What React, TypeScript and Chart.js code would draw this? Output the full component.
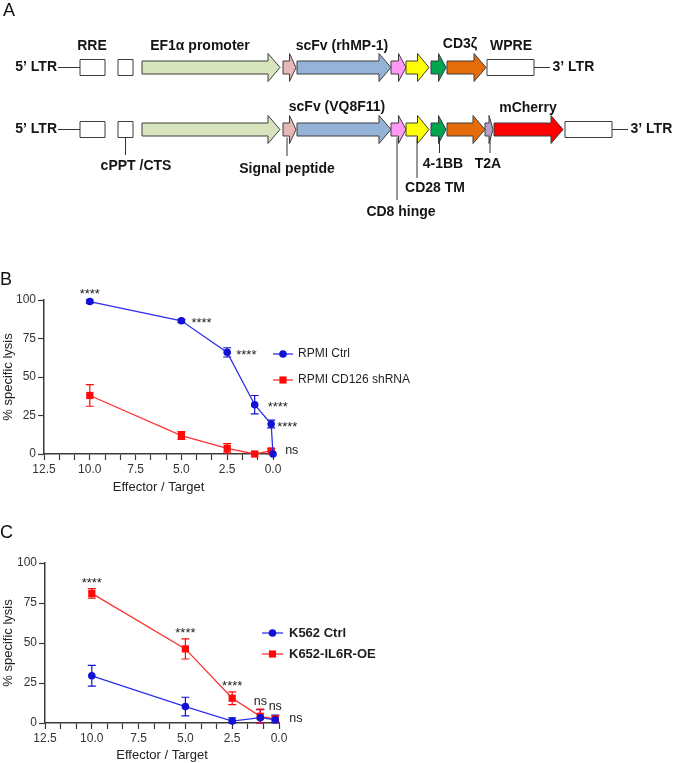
import React, { useEffect, useRef } from 'react';
import { Chart, registerables } from 'chart.js';

Chart.register(...registerables);

const FONT = '"Liberation Sans", Arial, Helvetica, sans-serif';
Chart.defaults.font.family = FONT;

// ---------------- Panel A : vector maps ----------------
const ltr5Label = '5’ LTR';
const ltr3Label = '3’ LTR';
const row1Names = ['RRE', 'cPPT/CTS', 'EF1α promoter', 'Signal peptide', 'scFv', 'CD8 hinge', 'CD28 TM', '4-1BB', 'CD3ζ', 'WPRE'];
const row1Start = [80, 118, 142, 283, 297, 391, 406, 431, 447, 487];
const row1End = [105, 133, 280, 296, 391, 406, 429, 446, 486, 534];
const row2Names = ['RRE', 'cPPT/CTS', 'EF1α promoter', 'Signal peptide', 'scFv', 'CD8 hinge', 'CD28 TM', '4-1BB', 'CD3ζ', 'T2A', 'mCherry', 'WPRE'];
const row2Start = [80, 118, 142, 283, 297, 391, 406, 431, 447, 485, 494, 565];
const row2End = [105, 133, 280, 296, 391, 406, 429, 446, 485, 493, 563, 612];
const rowCenter = [67.5, 129.5];

// labels written above the maps: text, x centre, y centre
const topLabelText = ['RRE', 'EF1α promoter', 'scFv (rhMP-1)', 'CD3ζ', 'WPRE', 'scFv (VQ8F11)', 'mCherry'];
const topLabelX = [92, 200, 342, 460, 511, 337, 528];
const topLabelY = [46, 46, 46, 44, 46, 107, 108];

// call-outs below the second map: text, line x, line end y, text x, text y
const calloutText = ['cPPT /CTS', 'Signal peptide', 'CD8 hinge', 'CD28 TM', '4-1BB', 'T2A'];
const calloutLineX = [125.5, 287, 397, 417, 439.5, 490];
const calloutLineEnd = [155, 156, 200, 178, 153, 153];
const calloutTextX = [136, 287, 401, 435, 443, 488];
const calloutTextY = [166, 169, 212, 188, 164, 164];

const featureStyle: Record<string, { kind: 'box' | 'arrow'; fill: string }> = {
  'RRE': { kind: 'box', fill: '#ffffff' },
  'cPPT/CTS': { kind: 'box', fill: '#ffffff' },
  'EF1α promoter': { kind: 'arrow', fill: '#d7e4bd' },
  'Signal peptide': { kind: 'arrow', fill: '#e6b9b8' },
  'scFv': { kind: 'arrow', fill: '#95b3d7' },
  'CD8 hinge': { kind: 'arrow', fill: '#ff99f5' },
  'CD28 TM': { kind: 'arrow', fill: '#ffff00' },
  '4-1BB': { kind: 'arrow', fill: '#00a550' },
  'CD3ζ': { kind: 'arrow', fill: '#e46c0a' },
  'T2A': { kind: 'arrow', fill: '#b3a2c7' },
  'mCherry': { kind: 'arrow', fill: '#ff0000' },
  'WPRE': { kind: 'box', fill: '#ffffff' },
};

function diagramConfig(): any {
  const rows = [
    { names: row1Names, start: row1Start, end: row1End },
    { names: row2Names, start: row2Start, end: row2End },
  ];
  const plugin = {
    id: 'vectorMap',
    afterDraw(chart: any) {
      const ctx = chart.ctx as CanvasRenderingContext2D;
      const X = (v: number) => chart.scales.x.getPixelForValue(v);
      const Y = (v: number) => chart.scales.y.getPixelForValue(v);
      ctx.save();
      ctx.fillStyle = '#111';
      ctx.font = `18px ${FONT}`;
      ctx.textAlign = 'left';
      ctx.textBaseline = 'alphabetic';
      ctx.fillText('A', X(3), Y(16));

      const textCol = '#151515';
      const bold = `bold 14px ${FONT}`;
      rows.forEach((row, r) => {
        const yc = Y(rowCenter[r]);
        const first = row.start[0];
        const last = row.end[row.end.length - 1];
        ctx.strokeStyle = '#333';
        ctx.lineWidth = 1;
        ctx.beginPath();
        ctx.moveTo(X(58), yc);
        ctx.lineTo(X(first), yc);
        ctx.moveTo(X(last), yc);
        ctx.lineTo(X(last + 16), yc);
        ctx.stroke();
        ctx.fillStyle = textCol;
        ctx.font = bold;
        ctx.textBaseline = 'middle';
        ctx.textAlign = 'right';
        ctx.fillText(ltr5Label, X(57), yc);
        ctx.textAlign = 'left';
        ctx.fillText(ltr3Label, X(last + 18.5), yc);

        row.names.forEach((name, i) => {
          const st = featureStyle[name];
          const x0 = X(row.start[i]);
          const x1 = X(row.end[i]);
          ctx.fillStyle = st.fill;
          ctx.strokeStyle = '#3c3c3c';
          ctx.lineWidth = 1;
          ctx.beginPath();
          if (st.kind === 'box') {
            ctx.rect(x0, yc - 8, x1 - x0, 16);
          } else {
            const bh = 6.5;
            const hh = 14;
            const hl = Math.min(12, (x1 - x0) * 0.5);
            ctx.moveTo(x0, yc - bh);
            ctx.lineTo(x1 - hl, yc - bh);
            ctx.lineTo(x1 - hl, yc - hh);
            ctx.lineTo(x1, yc);
            ctx.lineTo(x1 - hl, yc + hh);
            ctx.lineTo(x1 - hl, yc + bh);
            ctx.lineTo(x0, yc + bh);
            ctx.closePath();
          }
          ctx.fill();
          ctx.stroke();
        });
      });

      ctx.fillStyle = textCol;
      ctx.font = bold;
      ctx.textAlign = 'center';
      ctx.textBaseline = 'middle';
      topLabelText.forEach((t, i) => ctx.fillText(t, X(topLabelX[i]), Y(topLabelY[i])));

      ctx.strokeStyle = '#333';
      ctx.lineWidth = 1;
      calloutText.forEach((t, i) => {
        ctx.beginPath();
        ctx.moveTo(X(calloutLineX[i]), Y(rowCenter[1] + 8));
        ctx.lineTo(X(calloutLineX[i]), Y(calloutLineEnd[i]));
        ctx.stroke();
        ctx.fillText(t, X(calloutTextX[i]), Y(calloutTextY[i]));
      });
      ctx.restore();
    },
  };
  return {
    type: 'scatter',
    data: { datasets: [] },
    options: {
      responsive: false,
      animation: false,
      events: [],
      layout: { padding: 0 },
      plugins: { legend: { display: false }, tooltip: { enabled: false } },
      scales: {
        x: { type: 'linear', display: false, min: 0, max: 673 },
        y: { type: 'linear', display: false, min: 0, max: 230, reverse: true },
      },
    },
    plugins: [plugin],
  };
}

// ---------------- Panels B & C : cytotoxicity ----------------
const xMajorTicks = [0, 2.5, 5, 7.5, 10, 12.5];
const xTickLabels = ['0.0', '2.5', '5.0', '7.5', '10.0', '12.5'];
const yTicks = [0, 25, 50, 75, 100];
const yTickLabels = ['0', '25', '50', '75', '100'];

// Panel B
const rpmiCtrlEt = [10, 5, 2.5, 1, 0.1, 0];
const rpmiCtrlLysis = [99, 86.5, 66, 32, 19.5, 0];
const rpmiCtrlSem = [1, 1, 3, 6, 2.5, 0];
const rpmiShEt = [10, 5, 2.5, 1, 0.1];
const rpmiShLysis = [38, 12, 3.7, 0, 2];
const rpmiShSem = [7, 2.5, 3, 1, 1.5];

// Panel C
const k562Et = [10, 5, 2.5, 1, 0.2];
const k562CtrlLysis = [29.5, 10.3, 1.2, 3.3, 2];
const k562CtrlSem = [6.5, 5.8, 2, 5, 3];
const k652OeLysis = [81, 46.3, 15.5, 4.2, 2.5];
const k652OeSem = [3, 6.3, 4, 4.5, 2];

const BLUE = '#1212d4';
const BLUE_LINE = '#2f2fe8';
const RED = '#ff0a0a';
const RED_LINE = '#ff3030';

type Series = { label: string; x: number[]; y: number[]; err: number[]; color: string; line: string; marker: 'circle' | 'rect' };
type Ann = { text: string; s: number; i: number; pos: 'above' | 'right' | 'group'; dx?: number };
type Panel = {
  letter: string; letterY: number; canvasTop: number; height: number; areaTop: number;
  axisLeft: number; axisRight: number; xAxisH: number;
  series: Series[]; anns: Ann[];
  legendX: number; legendLen: number; legendTextX: number; legendYs: number[]; legendFont: string;
};

const panelB: Panel = {
  letter: 'B', letterY: 285, canvasTop: 258, height: 237, areaTop: 300,
  axisLeft: 44, axisRight: 273, xAxisH: 41,
  series: [
    { label: 'RPMI Ctrl', x: rpmiCtrlEt, y: rpmiCtrlLysis, err: rpmiCtrlSem, color: BLUE, line: BLUE_LINE, marker: 'circle' },
    { label: 'RPMI CD126 shRNA', x: rpmiShEt, y: rpmiShLysis, err: rpmiShSem, color: RED, line: RED_LINE, marker: 'rect' },
  ],
  anns: [
    { text: '****', s: 0, i: 0, pos: 'above' },
    { text: '****', s: 0, i: 1, pos: 'right', dx: 10 },
    { text: '****', s: 0, i: 2, pos: 'right', dx: 9 },
    { text: '****', s: 0, i: 3, pos: 'right', dx: 13 },
    { text: '****', s: 0, i: 4, pos: 'right', dx: 6 },
    { text: 'ns', s: 1, i: 4, pos: 'right', dx: 14 },
  ],
  legendX: 273, legendLen: 20, legendTextX: 298, legendYs: [354, 380], legendFont: `12px ${FONT}`,
};

const panelC: Panel = {
  letter: 'C', letterY: 538, canvasTop: 518, height: 245, areaTop: 563,
  axisLeft: 45, axisRight: 279, xAxisH: 40,
  series: [
    { label: 'K562 Ctrl', x: k562Et, y: k562CtrlLysis, err: k562CtrlSem, color: BLUE, line: BLUE_LINE, marker: 'circle' },
    { label: 'K652-IL6R-OE', x: k562Et, y: k652OeLysis, err: k652OeSem, color: RED, line: RED_LINE, marker: 'rect' },
  ],
  anns: [
    { text: '****', s: 1, i: 0, pos: 'group' },
    { text: '****', s: 1, i: 1, pos: 'group' },
    { text: '****', s: 1, i: 2, pos: 'group' },
    { text: 'ns', s: 1, i: 3, pos: 'group' },
    { text: 'ns', s: 1, i: 4, pos: 'group' },
    { text: 'ns', s: 1, i: 4, pos: 'right', dx: 14 },
  ],
  legendX: 262, legendLen: 21, legendTextX: 289, legendYs: [633, 654], legendFont: `bold 13px ${FONT}`,
};

function drawMarker(ctx: CanvasRenderingContext2D, kind: string, x: number, y: number, color: string) {
  ctx.fillStyle = color;
  ctx.beginPath();
  if (kind === 'rect') ctx.rect(x - 3.6, y - 3.6, 7.2, 7.2);
  else ctx.arc(x, y, 3.8, 0, Math.PI * 2);
  ctx.fill();
}

function lysisConfig(p: Panel): any {
  const off = p.canvasTop;
  const errPlugin = {
    id: 'errBars',
    beforeDatasetsDraw(chart: any) {
      const ctx = chart.ctx as CanvasRenderingContext2D;
      const xs = chart.scales.x;
      const ys = chart.scales.y;
      ctx.save();
      p.series.forEach((s) => {
        ctx.strokeStyle = s.color;
        ctx.lineWidth = 1.2;
        s.x.forEach((xv, i) => {
          const e = s.err[i];
          if (!e) return;
          const px = xs.getPixelForValue(xv);
          const yt = ys.getPixelForValue(s.y[i] + e);
          const yb = ys.getPixelForValue(Math.max(0, s.y[i] - e));
          ctx.beginPath();
          ctx.moveTo(px, yt); ctx.lineTo(px, yb);
          ctx.moveTo(px - 4, yt); ctx.lineTo(px + 4, yt);
          ctx.moveTo(px - 4, yb); ctx.lineTo(px + 4, yb);
          ctx.stroke();
        });
      });
      ctx.restore();
    },
  };
  const overlayPlugin = {
    id: 'overlay',
    afterDraw(chart: any) {
      const ctx = chart.ctx as CanvasRenderingContext2D;
      const xs = chart.scales.x;
      const ys = chart.scales.y;
      ctx.save();
      // panel letter
      ctx.fillStyle = '#111';
      ctx.font = `18px ${FONT}`;
      ctx.textAlign = 'left';
      ctx.textBaseline = 'alphabetic';
      ctx.fillText(p.letter, 0, p.letterY - off);

      // annotations
      ctx.fillStyle = '#222';
      p.anns.forEach((a) => {
        const s = p.series[a.s];
        const px = xs.getPixelForValue(s.x[a.i]);
        let vy: number;
        let tx = px;
        ctx.textAlign = 'center';
        if (a.pos === 'above') {
          vy = ys.getPixelForValue(s.y[a.i] + s.err[a.i]) - 8.5;
        } else if (a.pos === 'group') {
          const tops = p.series.map((ss) => ys.getPixelForValue(ss.y[a.i] + ss.err[a.i]));
          vy = Math.min(...tops) - 8;
        } else {
          vy = ys.getPixelForValue(s.y[a.i]);
          tx = px + (a.dx || 9);
          ctx.textAlign = 'left';
        }
        const star = a.text.startsWith('*');
        ctx.font = star ? `13px ${FONT}` : `12.5px ${FONT}`;
        ctx.textBaseline = 'middle';
        ctx.fillText(a.text, tx, vy + (star ? 3 : 0));
      });

      // legend
      p.series.forEach((s, k) => {
        const y = p.legendYs[k] - off;
        ctx.strokeStyle = s.line;
        ctx.lineWidth = 1.3;
        ctx.beginPath();
        ctx.moveTo(p.legendX, y);
        ctx.lineTo(p.legendX + p.legendLen, y);
        ctx.stroke();
        drawMarker(ctx, s.marker, p.legendX + p.legendLen / 2, y, s.color);
        ctx.fillStyle = '#1e1e1e';
        ctx.font = p.legendFont;
        ctx.textAlign = 'left';
        ctx.textBaseline = 'middle';
        ctx.fillText(s.label, p.legendTextX, y);
      });
      ctx.restore();
    },
  };

  const tickFont = { family: FONT, size: 12 };
  const titleFont = { family: FONT, size: 13 };
  const axisCol = '#3a3a3a';
  const near = (a: number, b: number) => Math.abs(a - b) < 1e-6;

  return {
    type: 'line',
    data: {
      datasets: p.series.map((s) => ({
        label: s.label,
        data: s.x.map((xv, i) => ({ x: xv, y: s.y[i] })),
        borderColor: s.line,
        backgroundColor: s.color,
        pointBackgroundColor: s.color,
        pointBorderColor: s.color,
        pointBorderWidth: 0,
        pointStyle: s.marker,
        pointRadius: s.marker === 'rect' ? 5.1 : 3.8,
        borderWidth: 1.3,
        tension: 0,
        clip: false,
      })),
    },
    options: {
      responsive: false,
      animation: false,
      events: [],
      layout: { padding: { top: p.areaTop - off, right: 673 - p.axisRight, left: 0, bottom: 0 } },
      plugins: { legend: { display: false }, tooltip: { enabled: false } },
      scales: {
        x: {
          type: 'linear',
          reverse: true,
          min: 0,
          max: 12.5,
          afterFit: (sc: any) => { sc.height = p.xAxisH; },
          afterBuildTicks: (sc: any) => {
            const t: { value: number }[] = [];
            for (let m = 0; m < xMajorTicks.length; m++) {
              t.push({ value: xMajorTicks[m] });
              if (m < xMajorTicks.length - 1) {
                const step = (xMajorTicks[m + 1] - xMajorTicks[m]) / 3;
                t.push({ value: xMajorTicks[m] + step }, { value: xMajorTicks[m] + 2 * step });
              }
            }
            sc.ticks = t;
          },
          ticks: {
            autoSkip: false,
            maxRotation: 0,
            padding: 2,
            color: '#333',
            font: tickFont,
            callback: (v: number) => {
              const idx = xMajorTicks.findIndex((m) => near(m, v));
              return idx >= 0 ? xTickLabels[idx] : '';
            },
          },
          grid: { drawOnChartArea: false, drawTicks: true, tickLength: 6, tickColor: axisCol, tickWidth: 1.2 },
          border: { color: axisCol, width: 1.5 },
          title: { display: true, text: 'Effector / Target', color: '#222', font: titleFont, padding: 0 },
        },
        y: {
          type: 'linear',
          min: 0,
          max: 100,
          afterFit: (sc: any) => { sc.width = p.axisLeft; },
          afterBuildTicks: (sc: any) => { sc.ticks = yTicks.map((v) => ({ value: v })); },
          ticks: {
            padding: 2,
            color: '#333',
            font: tickFont,
            callback: (v: number) => {
              const idx = yTicks.findIndex((m) => near(m, v));
              return idx >= 0 ? yTickLabels[idx] : '';
            },
          },
          grid: { drawOnChartArea: false, drawTicks: true, tickLength: 6, tickColor: axisCol, tickWidth: 1.2 },
          border: { color: axisCol, width: 1.5 },
          title: { display: true, text: '% specific lysis', color: '#222', font: titleFont, padding: { top: 1, bottom: 0 } },
        },
      },
    },
    plugins: [errPlugin, overlayPlugin],
  };
}

export default function App() {
  const refA = useRef<HTMLCanvasElement>(null);
  const refB = useRef<HTMLCanvasElement>(null);
  const refC = useRef<HTMLCanvasElement>(null);

  useEffect(() => {
    document.body.style.margin = '0';
    const charts = [
      new Chart(refA.current as HTMLCanvasElement, diagramConfig()),
      new Chart(refB.current as HTMLCanvasElement, lysisConfig(panelB)),
      new Chart(refC.current as HTMLCanvasElement, lysisConfig(panelC)),
    ];
    return () => charts.forEach((c) => c.destroy());
  }, []);

  return (
    <div style={{ position: 'relative', width: 673, height: 763, background: '#ffffff' }}>
      <canvas ref={refA} width={673} height={230} style={{ position: 'absolute', left: 0, top: 0 }} />
      <canvas ref={refB} width={673} height={panelB.height} style={{ position: 'absolute', left: 0, top: panelB.canvasTop }} />
      <canvas ref={refC} width={673} height={panelC.height} style={{ position: 'absolute', left: 0, top: panelC.canvasTop }} />
    </div>
  );
}
